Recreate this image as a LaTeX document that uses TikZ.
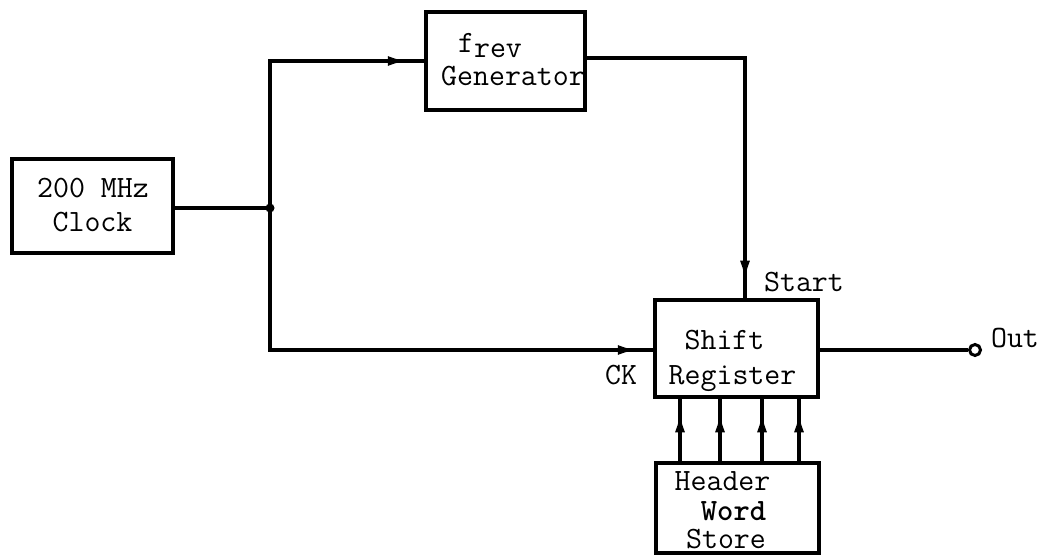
\documentclass[tikz,border=0pt]{standalone}
\usetikzlibrary{arrows.meta,decorations.markings,calc}
\begin{document}
\begin{tikzpicture}[x=1pt,y=-1pt,
  blk/.style={draw,line width=4.5pt,rectangle,inner sep=0pt},
  lab/.style={font=\fontsize{31}{36}\selectfont\ttfamily,inner sep=0pt,anchor=base},
  wire/.style={line width=3.5pt},
  midarrow/.style={postaction={decorate},decoration={markings,mark=at position #1 with {\arrow{Latex[length=20pt,width=10pt]}}}}]
\useasboundingbox (0,0) rectangle (1045,556);
% boxes
\node[blk,minimum width=161pt,minimum height=94pt] (clk) at (92.5,206) {};
\node[blk,minimum width=159pt,minimum height=98pt] (gen) at (505.5,61) {};
\node[blk,minimum width=163pt,minimum height=97pt] (reg) at (736.5,348.5) {};
\node[blk,minimum width=163pt,minimum height=90pt] (hdr) at (737.5,508) {};
% texts
\node[lab] (t1) at (93,198) {200 MHz};
\node[lab] (t2) at (92.5,232) {Clock};
\node[lab] (t3) at (490,53) {f\raisebox{-5pt}{rev}};
\node[lab] (t4) at (513,86) {Generator};
\node[lab] (t5) at (724.5,349) {Shift};
\node[lab] (t6) at (732.5,384) {Register};
\node[lab] (t7) at (722.5,490) {Header};
\node[lab,text depth=0pt] (t8) at (733.5,520) {\bfseries Word};
\node[lab,text height=20pt] (t9) at (726,548) {Store};
\node[lab] (st) at (804,291) {Start};
\node[lab] (ck) at (621,384) {CK};
\node[lab] (ot) at (1015,347) {Out};
% junction and out terminal
\coordinate (j) at (270,208);
\fill (j) circle (4.5pt);
\node[draw,circle,line width=3pt,minimum size=11pt,inner sep=0pt,fill=white] (out) at (975,350) {};
% connectors
\draw[wire] (j -| clk.east) -- (j);
\draw[wire,midarrow=-16pt] (j) |- (gen.west);
\draw[wire,midarrow=-15pt] (j) |- (reg.west |- 0,350);
\draw[wire,midarrow=-17pt] (gen.east |- 0,58) -| (reg.north -| 745,0);
\draw[wire] (reg.east |- out) -- (out.west);
\foreach \x in {680,720,762,799}{
  \draw[wire,midarrow=-13pt] (hdr.north -| \x,0) -- (reg.south -| \x,0);
}
\end{tikzpicture}
\end{document}
